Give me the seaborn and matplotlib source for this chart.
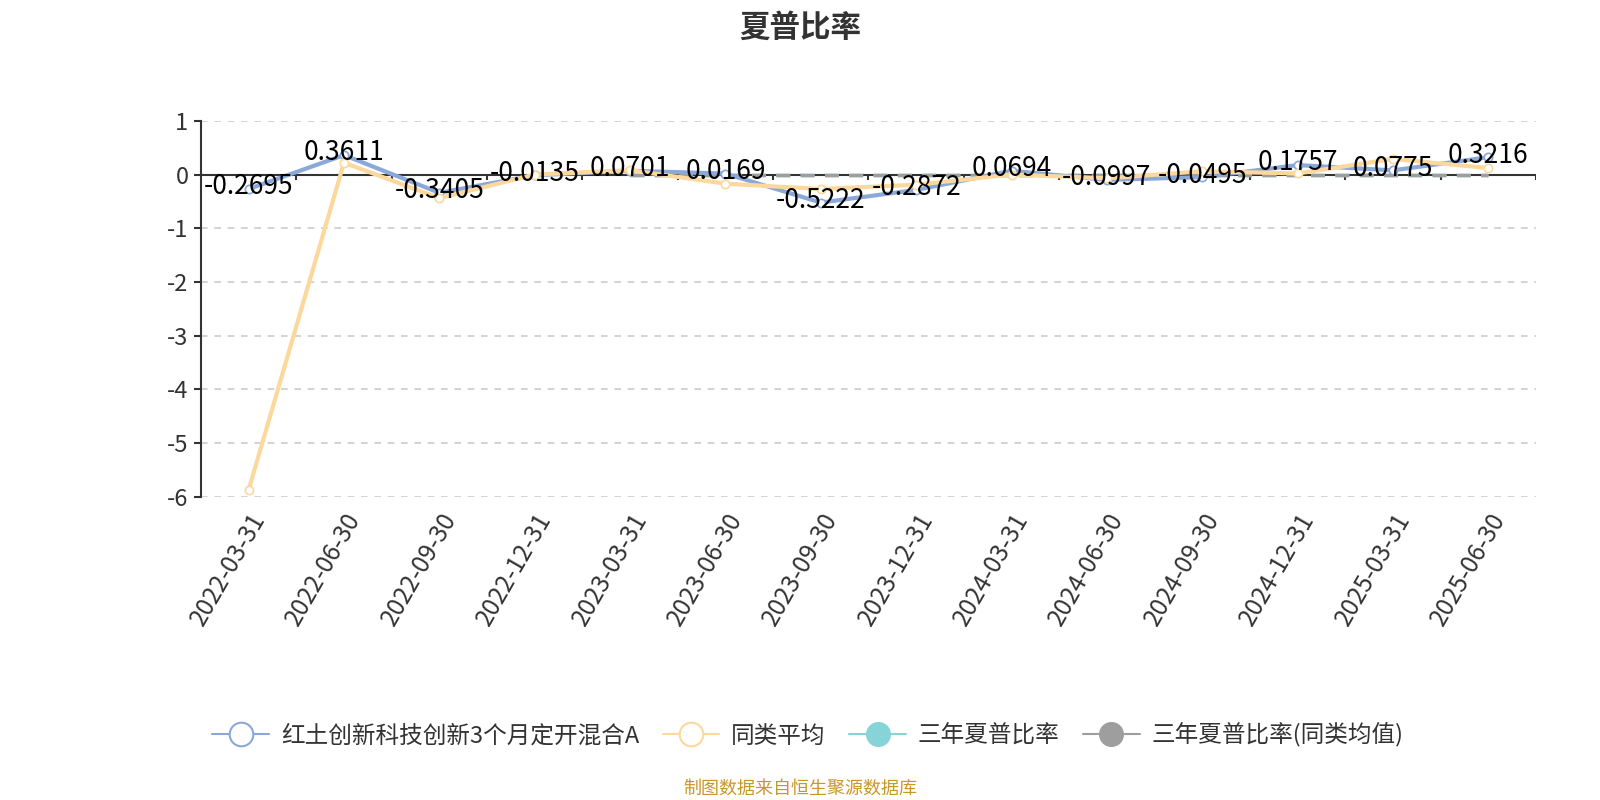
import numpy as np
import pandas as pd
import matplotlib
matplotlib.use("Agg")
import matplotlib.pyplot as plt
from matplotlib.lines import Line2D
import seaborn as sns

dates = ["2022-03-31", "2022-06-30", "2022-09-30", "2022-12-31", "2023-03-31", "2023-06-30",
         "2023-09-30", "2023-12-31", "2024-03-31", "2024-06-30", "2024-09-30", "2024-12-31",
         "2025-03-31", "2025-06-30"]
fund = [-0.2695, 0.3611, -0.3405, -0.0135, 0.0701, 0.0169, -0.5222, -0.2872, 0.0694,
        -0.0997, -0.0495, 0.1757, 0.0775, 0.3216]
peer_avg = [-5.87, 0.22, -0.44, 0.0, 0.08, -0.17, -0.27, -0.19, 0.0, -0.07, 0.06, 0.02, 0.29, 0.12]
sharpe3y = [np.nan, np.nan, np.nan, np.nan, 0.0, 0.0, 0.0, 0.0, 0.0, 0.0, 0.0, 0.0, 0.0, 0.0]
sharpe3y_peer = [np.nan, np.nan, np.nan, np.nan, 0.0, 0.0, 0.0, 0.0, 0.0, 0.0, 0.0, 0.0, 0.0, 0.0]
yticks = [1, 0, -1, -2, -3, -4, -5, -6]

names = ["红土创新科技创新3个月定开混合A", "同类平均", "三年夏普比率", "三年夏普比率(同类均值)"]
colors = ["#8aa8da", "#fdd89c", "#86d4d8", "#9e9e9e"]

sns.set_theme(style="white")
plt.rcParams['font.family'] = ['Noto Sans CJK SC', 'DejaVu Sans']
plt.rcParams['axes.unicode_minus'] = False

fig = plt.figure(figsize=(16, 8), dpi=100)
ax = fig.add_axes([0.1256, 0.379, 0.8344, 0.470])

x = np.arange(len(dates))
df = pd.DataFrame({"x": x, "fund": fund, "peer": peer_avg, "s3": sharpe3y, "s3p": sharpe3y_peer})

sns.lineplot(data=df, x="x", y="s3", ax=ax, color=colors[2], linewidth=2.5, linestyle=(0, (4, 3)), zorder=2)
sns.lineplot(data=df, x="x", y="s3p", ax=ax, color=colors[3], linewidth=2.5, linestyle=(0, (4, 3)), zorder=2.1)
sns.lineplot(data=df, x="x", y="fund", ax=ax, color=colors[0], linewidth=3, marker="o", markersize=6,
             markerfacecolor="white", markeredgecolor=colors[0], markeredgewidth=1.2, zorder=3)
sns.lineplot(data=df, x="x", y="peer", ax=ax, color=colors[1], linewidth=3, marker="o", markersize=6,
             markerfacecolor="white", markeredgecolor=colors[1], markeredgewidth=1.2, zorder=4)

for xi, v in zip(x, fund):
    ax.text(xi, v + 0.04, f"{v:.4f}", ha="center", va="center", fontsize=19, color="black", zorder=6)

ax.set_xlim(-0.5, len(dates) - 0.5)
ax.set_ylim(-6, 1)
ax.set_yticks(yticks)
ax.set_yticklabels([str(t) for t in yticks], fontsize=17, color="#333333")
for t in yticks:
    if t != 0:
        ax.axhline(t, color="#cccccc", linestyle=(0, (4, 4)), linewidth=1.2, zorder=0)
ax.axhline(0, color="#333333", linewidth=1.5, zorder=1)
bounds = np.arange(len(dates) + 1) - 0.5
ax.vlines(bounds[1:], -0.1, 0, color="#333333", linewidth=1.5, zorder=1)

ax.set_xticks(x)
ax.set_xticklabels(dates, rotation=60, ha="right", rotation_mode="anchor", fontsize=17.5, color="#333333")
ax.tick_params(axis="x", length=0, pad=8)
ax.tick_params(axis="y", length=5, width=1.5, color="#333333", left=True, pad=4)
ax.set_xlabel("")
ax.set_ylabel("")
for s in ["top", "right", "bottom"]:
    ax.spines[s].set_visible(False)
ax.spines["left"].set_color("#333333")
ax.spines["left"].set_linewidth(1.5)

fig.suptitle("夏普比率", x=0.5, y=0.985, fontsize=22, fontweight="bold", color="#333333")

handles = [
    Line2D([0], [0], color=colors[0], linewidth=1.5, marker="o", markersize=17, markerfacecolor="white", markeredgecolor=colors[0], markeredgewidth=1.5),
    Line2D([0], [0], color=colors[1], linewidth=1.5, marker="o", markersize=17, markerfacecolor="white", markeredgecolor=colors[1], markeredgewidth=1.5),
    Line2D([0], [0], color=colors[2], linewidth=1.5, marker="o", markersize=17, markerfacecolor=colors[2], markeredgecolor=colors[2]),
    Line2D([0], [0], color=colors[3], linewidth=1.5, marker="o", markersize=17, markerfacecolor=colors[3], markeredgecolor=colors[3]),
]
fig.legend(handles, names, loc="center", bbox_to_anchor=(0.505, 0.081), ncol=4, frameon=False,
           fontsize=17, handlelength=2.4, handletextpad=0.5, columnspacing=1.0, labelcolor="#333333")

fig.text(0.5, 0.014, "制图数据来自恒生聚源数据库", ha="center", va="center", fontsize=13, color="#c8962a")

fig.savefig("out.png", dpi=100)
